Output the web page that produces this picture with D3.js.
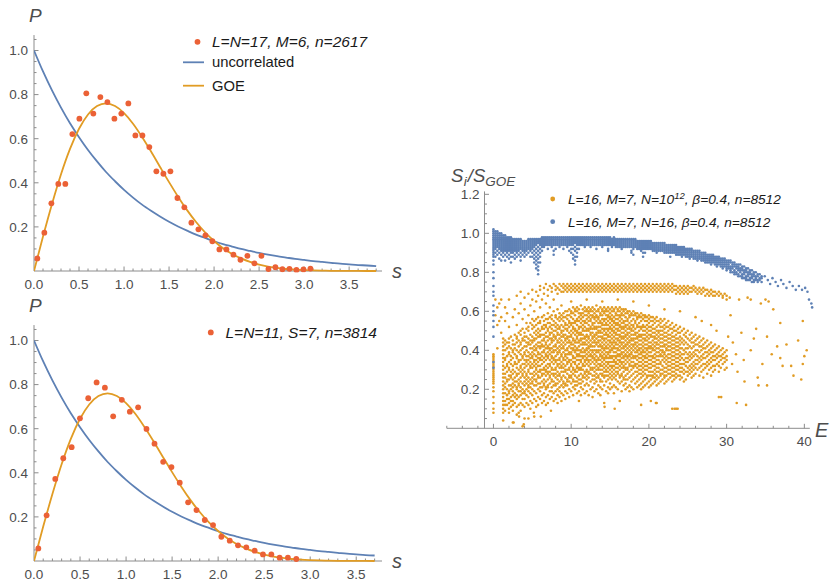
<!DOCTYPE html>
<html><head><meta charset="utf-8">
<script src="https://cdn.jsdelivr.net/npm/d3@7"></script>
<style>
body{margin:0;background:#fff}
svg{display:block}
text{font-family:"Liberation Sans",Arial,Helvetica,sans-serif}
</style>
</head><body>
<svg id="c" width="831" height="583"></svg>
<script>
// ---------- theory curves (left panels) ----------
const sGrid = [0,0.1,0.2,0.3,0.4,0.5,0.6,0.7,0.8,0.9,1.0,1.1,1.2,1.3,1.4,1.5,1.6,1.7,1.8,1.9,2.0,2.1,2.2,2.3,2.4,2.5,2.6,2.7,2.8,2.9,3.0,3.1,3.2,3.3,3.4,3.5,3.6,3.7,3.8];
const pUncorrelated = [1,0.905,0.819,0.741,0.670,0.607,0.549,0.497,0.449,0.407,0.368,0.333,0.301,0.273,0.247,0.223,0.202,0.183,0.165,0.150,0.135,0.122,0.111,0.100,0.091,0.082,0.074,0.067,0.061,0.055,0.050,0.045,0.041,0.037,0.033,0.030,0.027,0.025,0.022];
const pGOE = [0,0.156,0.304,0.439,0.554,0.645,0.710,0.748,0.760,0.748,0.716,0.668,0.608,0.542,0.472,0.403,0.337,0.276,0.222,0.175,0.136,0.103,0.077,0.057,0.041,0.029,0.020,0.014,0.009,0.006,0.004,0.0025,0.0016,0.001,0.0006,0.0003,0.0002,0.0001,0.0001];

// ---------- histogram points ----------
const topS = [0.037,0.115,0.193,0.27,0.348,0.426,0.504,0.581,0.659,0.737,0.815,0.893,0.970,1.048,1.126,1.204,1.281,1.359,1.437,1.515,1.593,1.670,1.748,1.826,1.904,1.981,2.059,2.137,2.215,2.293,2.370,2.448,2.526,2.604,2.681,2.759,2.837,2.915,2.993,3.070];
const topP = [0.057,0.174,0.307,0.395,0.395,0.621,0.691,0.806,0.714,0.789,0.766,0.691,0.714,0.760,0.615,0.615,0.562,0.452,0.441,0.452,0.331,0.289,0.219,0.189,0.162,0.135,0.098,0.098,0.074,0.051,0.069,0.035,0.069,0.009,0.017,0.008,0.010,0.005,0.007,0.011];
const botS = [0.047,0.137,0.231,0.318,0.409,0.499,0.589,0.680,0.770,0.860,0.954,1.041,1.131,1.222,1.309,1.403,1.493,1.583,1.674,1.765,1.855,1.945,2.035,2.126,2.216,2.306,2.397,2.487,2.578,2.668,2.758,2.849];
const botP = [0.057,0.207,0.372,0.466,0.516,0.647,0.738,0.810,0.786,0.656,0.731,0.677,0.697,0.599,0.532,0.450,0.426,0.355,0.266,0.231,0.186,0.163,0.110,0.092,0.071,0.062,0.047,0.030,0.030,0.015,0.015,0.009];

// ---------- right panel: S_i/S_GOE vs E (values in hundredths, grouped by E) ----------
const orangeCols = [
[0,"38 37 36 35 34 33 32 31 30 29 28 27 26 25 24 23 21 19 16 13 10 8"],
[0.25,"66 58"],[0.5,"62 53 41"],[0.75,"55 64"],[1,"57 49 66"],
[1.25,"46 44 42 40 38 36 34 32 30 28 26 24 22 20 18 16 14 12 10 8 4"],
[1.5,"62 55 45 43 40 36 35 31 28 26 23 21 18 14 12 9"],
[1.75,"59 44 41 37 33 32 29 25 24 20 17 15 12"],
[2,"66 52 46 44 42 39 38 34 31 30 27 25 22 19 18 15 13 10 8"],
[2.25,"47 41 37 35 33 29 27 26 22 20 16 14 11"],
[2.5,"57 45 43 40 39 36 32 30 28 25 23 21 19 17 14 12 9 3"],
[2.75,"61 48 43 41 38 34 33 29 26 24 22 18 16 13"],
[3,"68 53 47 46 44 40 37 36 33 31 28 27 24 21 20 17 15 11 7"],
[3.25,"59 49 45 42 39 35 34 30 28 25 23 22 19 16 12 8"],
[3.5,"70 64 50 48 44 43 40 38 35 32 31 29 26 24 21 19 17 13 9"],
[3.75,"56 51 46 45 41 37 36 33 30 28 27 23 20 18 15 12 1"],
[4,"67 61 49 47 45 42 39 38 35 33 31 29 26 24 22 19 18 15 11 5"],
[4.25,"54 51 47 44 42 40 37 35 34 32 28 27 25 23 20 17 13"],
[4.5,"69 58 52 50 46 44 43 39 37 35 33 30 29 26 24 22 21 19 16 12"],
[4.75,"63 54 48 45 43 41 38 36 34 32 31 28 25 23 21 18 14 10"],
[5,"71 66 56 53 51 47 45 44 41 39 37 36 33 31 28 26 24 23 20 17 13"],
[5.25,"60 55 52 49 46 45 42 40 38 35 34 32 29 27 25 22 19 15 6"],
[5.5,"70 65 56 53 50 48 46 43 41 40 37 35 33 31 30 28 25 24 22 18 14 11"],
[5.75,"68 57 54 51 49 47 44 42 39 38 36 34 32 29 27 26 23 20 16 12"],
[6,"73 71 62 55 54 50 48 47 44 42 41 38 36 35 32 30 29 26 23 21 19 15"],
[6.25,"66 57 52 51 48 45 43 42 39 37 35 33 30 28 27 24 21 17 13"],
[6.5,"72 69 58 55 53 51 48 46 45 42 40 39 36 34 31 30 28 25 23 22 18 14"],
[6.75,"74 64 56 53 52 49 47 44 43 41 38 37 35 32 30 29 27 24 21 20 16 12"],
[7,"71 68 59 56 54 51 50 47 45 42 41 39 37 36 33 31 29 28 25 22 21 17 13"],
[7.25,"73 62 57 54 52 49 48 46 43 41 40 38 35 33 32 29 27 26 23 19 15"],
[7.5,"72 70 58 56 53 51 49 46 45 44 41 39 37 36 34 31 30 28 25 24 21 19 16"],
[7.75,"74 66 60 55 53 50 48 47 45 42 40 39 36 35 33 30 28 27 24 22 18 14"],
[8,"73 71 58 57 54 52 50 47 46 43 42 40 37 35 34 31 30 28 26 23 22 19 15"],
[8.25,"72 69 61 56 53 51 49 48 45 44 41 39 38 35 33 32 29 27 25 23 20 17 13"],
[8.5,"74 71 59 57 55 52 51 48 46 44 42 40 39 36 35 33 31 28 27 24 21 19 16"],
[8.75,"73 70 63 58 56 53 50 49 47 45 43 41 38 37 34 32 31 29 26 25 22 18 14"],
[9,"74 72 70 59 57 55 52 50 48 47 44 42 41 39 36 35 33 31 29 27 24 23 21 17"],
[9.25,"73 71 60 57 54 53 51 48 46 45 43 40 38 37 35 32 30 29 26 23 22 19 15"],
[9.5,"74 72 70 60 58 56 53 51 50 47 46 44 41 40 38 36 34 33 30 28 25 24 22 18"],
[9.75,"73 71 61 58 55 54 52 49 47 45 44 42 39 38 35 34 31 30 27 26 24 20 16"],
[10,"74 72 70 65 60 59 57 54 53 50 48 47 44 43 41 39 38 35 33 32 29 27 26 23 19"],
[10.25,"73 71 62 59 56 54 52 51 49 46 45 43 41 40 37 36 34 31 30 28 25 24 21 17"],
[10.5,"74 72 70 61 60 58 55 54 51 50 48 45 44 42 40 39 36 34 33 30 29 27 24 22 20"],
[10.75,"73 71 62 60 56 55 53 50 49 47 46 44 41 40 38 37 35 32 31 29 26 24 22 18"],
[11,"74 72 70 61 59 57 55 52 51 49 48 45 44 42 40 38 37 35 33 31 30 27 25 23 19 14"],
[11.25,"73 71 63 59 58 56 54 52 49 48 46 45 43 40 39 37 35 34 31 30 28 25 23 21 17"],
[11.5,"74 72 70 61 59 57 55 53 51 50 48 46 44 43 41 39 37 36 33 32 30 27 26 24 20"],
[11.75,"73 71 62 60 58 55 54 52 50 47 46 44 43 40 39 37 35 34 32 29 28 26 22 18"],
[12,"74 72 70 66 61 60 58 56 54 51 50 48 47 45 43 41 40 38 36 35 33 30 29 27 25 23 19"],
[12.25,"73 71 62 60 59 57 55 53 51 50 47 46 44 42 41 39 37 35 34 32 29 28 26 22 17"],
[12.5,"74 72 70 61 60 58 56 55 52 51 49 48 45 43 42 40 38 37 35 33 31 30 28 24 20"],
[12.75,"73 71 62 60 58 57 54 53 51 49 47 46 44 42 40 39 37 36 34 31 30 27 25 21 16"],
[13,"74 72 70 61 59 57 56 54 52 51 48 47 45 44 42 40 38 36 35 33 31 29 27 25 23 19"],
[13.25,"73 71 63 60 58 57 55 52 51 49 48 46 44 43 40 39 37 35 34 32 30 28 26 24 20"],
[13.5,"74 72 70 61 60 57 56 54 52 50 49 47 45 44 42 40 39 36 35 33 31 30 27 26 22 18"],
[13.75,"73 71 62 59 58 55 54 52 50 49 47 45 43 42 40 38 37 35 33 32 30 28 25 24 21 17"],
[14,"74 72 70 65 61 60 58 56 54 53 51 49 47 46 44 42 41 39 37 36 34 32 30 28 27 24 20"],
[14.25,"73 71 62 60 59 56 55 53 51 50 48 46 45 43 41 40 38 36 35 33 31 29 27 26 22 13"],
[14.5,"74 72 70 61 60 58 56 54 53 51 49 48 46 44 42 41 39 37 36 34 32 30 29 27 24 19"],
[14.75,"73 71 62 60 58 57 55 53 51 50 48 47 45 43 41 39 38 36 34 33 31 29 27 25 21 18"],
[15,"74 72 70 61 59 57 56 54 52 51 49 47 45 44 42 40 39 37 36 34 32 30 28 26 23 20"],
[15.25,"73 71 62 60 58 56 55 53 51 50 48 46 44 43 41 40 37 36 34 32 31 29 27 25 21"],
[15.5,"74 72 70 61 60 57 55 54 52 50 49 47 45 44 42 41 39 37 35 34 32 30 28 26 22 18"],
[15.75,"73 71 62 59 58 56 54 53 51 49 48 46 44 43 41 39 37 36 34 33 31 29 27 25 21"],
[16,"74 72 70 66 61 60 58 56 54 53 51 50 48 46 45 43 41 40 38 37 35 33 31 29 28 24 20"],
[16.25,"73 71 62 60 58 57 55 53 52 50 48 47 45 44 42 40 38 37 35 34 32 30 27 26 23 14"],
[16.5,"74 72 70 61 59 58 56 54 52 51 49 47 46 44 43 41 39 38 36 34 33 31 28 27 24 19"],
[16.75,"73 71 61 60 58 55 54 52 51 49 47 46 44 42 41 39 37 36 34 32 31 29 26 25 22"],
[17,"74 72 70 61 59 57 55 53 52 50 48 47 45 43 42 40 38 37 35 33 31 30 27 25 23 20"],
[17.25,"73 71 60 59 56 55 53 51 49 48 46 44 43 41 39 37 36 34 31 30 28 25 21"],
[17.5,"74 72 70 60 58 57 54 52 51 49 47 45 44 42 40 38 37 35 33 32 29 26 22 19"],
[17.75,"73 71 59 58 55 53 51 50 48 46 45 43 41 39 38 36 34 32 30 27 24 21"],
[18,"74 72 70 65 60 58 56 53 52 50 48 46 45 43 42 40 37 36 34 32 31 28 25 20"],
[18.25,"73 71 59 58 55 54 51 49 48 46 44 43 41 39 37 36 33 32 29 26 23"],
[18.5,"74 72 70 59 57 56 53 52 49 47 46 44 42 40 39 37 35 33 31 29 27 24 21"],
[18.75,"73 71 58 57 54 52 50 48 47 45 43 41 40 38 36 34 32 30 28 25 22"],
[19,"74 72 70 59 57 55 52 51 48 47 45 43 41 39 38 36 34 32 30 28 26 23 20 12"],
[19.25,"73 71 58 56 53 52 50 48 46 44 42 40 39 37 35 33 31 29 27 24 21"],
[19.5,"74 72 70 58 57 55 52 50 48 46 45 43 41 39 37 36 34 32 30 28 25 22"],
[19.75,"73 71 57 55 53 51 49 47 45 43 41 40 38 36 34 32 30 27 26 23"],
[20,"74 72 70 63 58 56 54 52 50 48 46 44 42 41 39 37 35 33 31 29 27 24 21"],
[20.25,"73 71 57 55 52 50 48 47 44 42 41 39 37 35 33 31 29 27 25 22 14"],
[20.5,"74 72 70 57 55 53 51 49 47 45 43 41 40 37 36 34 32 29 27 26 23"],
[20.75,"73 71 56 54 51 49 47 46 44 42 40 38 36 34 32 30 28 26 24"],
[21,"74 72 70 57 55 52 50 48 46 44 43 41 39 37 35 33 31 29 27 25 22 13"],
[21.25,"73 71 55 53 50 49 47 45 43 41 39 37 35 33 31 29 26 23"],
[21.5,"74 72 70 56 54 52 50 48 46 44 42 40 38 37 34 33 30 28 27 24"],
[21.75,"73 71 55 52 50 48 46 44 42 40 39 37 35 32 30 28 25"],
[22,"74 72 70 61 56 53 51 49 47 45 43 42 39 38 36 34 31 29 27 26 23"],
[22.25,"73 71 54 52 49 47 45 43 41 40 37 35 33 31 29 27 24"],
[22.5,"74 72 70 55 52 50 48 46 44 42 40 38 36 34 32 30 28 25"],
[22.75,"73 71 53 51 48 46 44 42 40 38 36 34 32 30 28 26"],
[23,"74 72 70 54 51 49 47 45 43 41 39 37 35 33 31 29 27 24 10"],
[23.25,"73 71 52 50 47 45 43 41 39 37 35 33 31 29 27 25"],
[23.5,"73 71 69 53 50 48 46 44 42 40 38 36 34 32 30 28 26 10"],
[23.75,"72 70 51 49 46 44 42 40 38 36 34 32 30 27"],
[24,"73 71 69 60 52 49 47 45 43 41 39 37 35 33 31 29 27 25"],
[24.25,"72 70 50 46 44 41 38 36 33 31 29 26"],
[24.5,"73 71 69 51 48 45 43 40 38 35 33 30 28 24"],
[24.75,"72 70 49 47 44 41 39 36 34 32 29 25"],
[25,"73 71 69 50 46 43 41 38 36 34 31 29 27"],
[25.25,"72 70 48 45 42 39 37 35 32 30 28"],
[25.5,"72 70 49 46 44 41 38 36 33 31 29 26"],
[25.75,"73 71 47 44 42 39 37 34 32 30 27"],
[26,"72 70 57 48 45 43 40 38 35 33 31 28"],
[26.25,"71 69 46 43 40 37 35 33 30"],
[26.5,"72 70 47 44 42 39 36 34 31 27"],
[26.75,"71 69 45 42 40 37 35 32 29"],
[27,"72 70 46 43 41 38 36 33 30 26"],
[27.25,"71 68 44 41 39 36 33 31"],
[27.5,"71 69 45 42 39 37 34 32 28"],
[27.75,"70 68 43 40 38 35 33 30"],
[28,"71 69 53 44 41 39 36 34 31 27"],
[28.25,"70 68 42 39 37 35 32 29"],
[28.5,"70 68 43 40 37 35 32 30"],
[28.75,"69 41 38 36 33"],
[29,"70 68 42 39 37 34 32 29 16"],
[29.25,"69 40 37 35 31"],
[29.5,"68 67 41 38 36 33"],
[29.75,"69 39 36 34 30"],
[30,"68 66 40 37 35 31"]
];
const orangeSparse = [[30.4,.67],[30.8,.44],[31.2,.38],[31.3,.13],[31.6,.66],[31.9,.49],[32.2,.35],[32.3,.24],[32.5,.12],[32.7,.67],[33.1,.66],[33.1,.40],[33.5,.46],[33.8,.51],[34.0,.26],[34.1,.22],[34.4,.64],[34.6,.33],[35.0,.66],[35.2,.47],[35.2,.22],[35.4,.65],[35.8,.38],[36.0,.61],[36.5,.42],[36.9,.54],[36.9,.36],[37.2,.32],[37.7,.43],[38.3,.32],[38.6,.27],[39.2,.45],[39.6,.25],[39.8,.55],[39.8,.33],[40.0,.37],[40.3,.40],[23.3,.10],[23.7,.10],[20.9,.13],[29.3,.16],[2.6,.03],[3.3,.06],[3.9,.02],[4.5,.05],[5.2,.08],[6.1,.06],[7.4,.09],[14.3,.11],[15.6,.10],[26.8,.55],[28.7,.50],[30.5,.58],[30.7,.33],[31.4,.29],[30.2,.47]];

const blueCols = [
[0,"102 101 100 99 98 97 96 95 94 93 92 91 90 89 88 86 84 80 77 73 70 68 63 60 58 55 52 47 34 31"],
[0.25,"101 100 99 98 97 96 95 94 93 92 90 88"],
[0.5,"101 100 99 98 97 96 95 94 93 91 89"],
[0.75,"100 99 98 97 96 95 94 93 92 90 87"],
[1,"100 99 98 97 96 95 94 93 92 91 89 86"],
[1.25,"99 98 97 96 95 94 93 92 91 90 88"],
[1.5,"99 98 97 96 95 94 93 92 91 89 86"],
[1.75,"98 97 96 95 94 93 92 91 90 88"],
[2,"98 97 96 95 94 93 92 91 89 87"],
[2.25,"98 97 96 95 94 93 92 91 90 88 85"],
[2.5,"97 96 95 94 93 92 91 90 88"],
[2.75,"97 96 95 94 93 92 91 89 87"],
[3,"97 96 95 94 93 92 91 90 88"],
[3.25,"97 96 95 94 93 92 91 89"],
[3.5,"97 96 95 94 93 92 90 88 86"],
[3.75,"96 95 94 93 92 91 89"],
[4,"96 95 94 93 92 91 90 88"],
[4.25,"96 95 94 93 92 91 89"],
[4.5,"97 96 95 94 93 92 90"],
[4.75,"97 96 95 94 93 92 91 88"],
[5,"97 96 95 94 93 92 90 88"],
[5.25,"97 96 95 94 93 91 89 87 85"],
[5.5,"97 96 95 94 92 90 88 86 84 82"],
[5.75,"97 96 95 93 91 89 87 85 83 81 79"],
[6,"97 96 95 94 92 90 88 85"],
[6.25,"98 97 96 95 94 93 91"],
[6.5,"98 97 96 95 94 93"],
[6.75,"98 97 96 95 94"],
[7,"98 97 96 95 94 92"],
[7.25,"98 97 96 95 94"],
[7.5,"98 97 96 95 94 93"],
[7.75,"98 97 96 95 94 91 89"],
[8,"98 97 96 95 94 92"],
[8.25,"98 97 96 95 94"],
[8.5,"98 97 96 95 94 93"],
[8.75,"98 97 96 95 94"],
[9,"98 97 96 95 94 92"],
[9.25,"98 97 96 95 94"],
[9.5,"98 97 96 95 94 93"],
[9.75,"98 97 96 95 94 91"],
[10,"98 97 96 95 94 92 90"],
[10.25,"98 97 96 95 94 92 89 87"],
[10.5,"98 97 96 95 93 91 88 86 84"],
[10.75,"98 97 96 95 94 92 90 88"],
[11,"98 97 96 95 94 92"],
[11.25,"98 97 96 95 94"],
[11.5,"98 97 96 95 94"],
[11.75,"98 97 96 95 94 93"],
[12,"98 97 96 95 94"],
[12.25,"98 97 96 95 94"],
[12.5,"98 97 96 95 94 93"],
[12.75,"98 97 96 95 94"],
[13,"98 97 96 95 94"],
[13.25,"98 97 96 95 94 92"],
[13.5,"98 97 96 95 94"],
[13.75,"98 97 96 95 94"],
[14,"98 97 96 95 94 93"],
[14.25,"98 97 96 95 94"],
[14.5,"98 97 96 95 94"],
[14.75,"98 97 96 95 94 92 91"],
[15,"98 97 96 95 94"],
[15.25,"97 96 95 94 93"],
[15.5,"98 97 96 95 94"],
[15.75,"97 96 95 94 93"],
[16,"97 96 95 94 93"],
[16.25,"97 96 95 94 93"],
[16.5,"97 96 95 94 93 92"],
[16.75,"97 96 95 94 93"],
[17,"97 96 95 94 93"],
[17.25,"97 96 95 94 93"],
[17.5,"97 96 95 94 93"],
[17.75,"97 96 95 94 93 91 90"],
[18,"97 96 95 94 93 92 89"],
[18.25,"97 96 95 94 93"],
[18.5,"96 95 94 93 92"],
[18.75,"96 95 94 93 92"],
[19,"96 95 94 93 92 91"],
[19.25,"96 95 94 93 92 90 88"],
[19.5,"96 95 94 93 92 90"],
[19.75,"96 95 94 93 92"],
[20,"96 95 94 93 92"],
[20.25,"96 95 94 93 92"],
[20.5,"95 94 93 92 91"],
[20.75,"95 94 93 92 91"],
[21,"95 94 93 92 91 90"],
[21.25,"95 94 93 92 91"],
[21.5,"95 94 93 92 91"],
[21.75,"95 94 93 92 91"],
[22,"95 94 93 92 91 90"],
[22.25,"94 93 92 91 90"],
[22.5,"94 93 92 91 90"],
[22.75,"94 93 92 91 90 88"],
[23,"94 93 92 91 90"],
[23.25,"94 93 92 91 90"],
[23.5,"94 93 92 91 90 89"],
[23.75,"93 92 91 90 89"],
[24,"93 92 91 90 89"],
[24.25,"93 92 91 90 89 88"],
[24.5,"93 92 91 90 89"],
[24.75,"92 91 90 89 88"],
[25,"92 91 90 89 88"],
[25.25,"92 91 90 89 88 87"],
[25.5,"92 91 90 89 88"],
[25.75,"91 90 89 88 87"],
[26,"91 90 89 88 87"],
[26.25,"91 90 89 88 87 86"],
[26.5,"91 90 89 88 87"],
[26.75,"90 89 88 87 86"],
[27,"90 89 88 87 86"],
[27.25,"90 89 88 87 86 85"],
[27.5,"89 88 87 86 85"],
[27.75,"89 88 87 86 85"],
[28,"89 88 87 86 85 84"],
[28.25,"89 88 87 86 85"],
[28.5,"88 87 86 85 84"],
[28.75,"88 87 86 85 84 83"],
[29,"88 87 86 85 84"],
[29.25,"87 86 85 84 83"],
[29.5,"87 86 85 84 83 82"],
[29.75,"87 86 85 84 83"],
[30,"86 85 84 83 82 81"],
[30.25,"86 85 84 83 82"],
[30.5,"86 85 83 82 81 80"],
[30.75,"85 84 83 82 80"],
[31,"85 84 83 81 80 79"],
[31.25,"84 83 82 80 79"],
[31.5,"84 83 82 81 79 78"],
[31.75,"84 82 81 80 78"],
[32,"83 82 81 79 78 77"],
[32.25,"83 81 80 79 77"],
[32.5,"82 81 80 78 77 76"],
[32.75,"82 80 79 78 76"],
[33,"81 80 79 77 76"],
[33.25,"81 79 78 77 75"],
[33.5,"80 79 78 76 75"],
[33.75,"80 78 77 76"],
[34,"79 78 76 75"],
[34.25,"79 77 76"],
[34.5,"78 77 75"]
];
const blueSparse = [[34.9,.78],[35.3,.76],[35.6,.74],[35.9,.77],[36.3,.75],[36.6,.73],[37,.76],[37.3,.74],[37.7,.72],[38.1,.75],[38.5,.73],[38.9,.71],[39.3,.73],[39.7,.71],[40.1,.72],[40.4,.70],[40.6,.66],[40.9,.64],[41,.62]];

// ---------- tick labels ----------
const sTickLabels = ["0.0","0.5","1.0","1.5","2.0","2.5","3.0","3.5"];
const pTickLabels = ["0.2","0.4","0.6","0.8","1.0"];
const eTickLabels = ["0","10","20","30","40"];
const rTickLabels = ["0.2","0.4","0.6","0.8","1.0","1.2"];

// ---------- styles ----------
const BLUE = "#5E81B5", ORANGE = "#E19C24", RED = "#EB6136";
const AXC = "#8c8c8c", LBL = "#4d4d4d", LEG = "#1a1a1a";

const svg = d3.select("#c");
const defs = svg.append("defs");

function leftPanel(o) {
  const x = o.x, y = o.y;
  const g = svg.append("g");
  const [x0, x1] = x.range();
  const y0 = y(0), yT = y(1.07);
  defs.append("clipPath").attr("id", o.id).append("rect")
    .attr("x", x0).attr("y", yT).attr("width", x1 - x0).attr("height", y0 - yT + 1.5);
  g.append("line").attr("x1", x0).attr("x2", x1).attr("y1", y0).attr("y2", y0).attr("stroke", AXC);
  g.append("line").attr("x1", x0).attr("x2", x0).attr("y1", y0).attr("y2", yT).attr("stroke", AXC);
  const nx = Math.floor(x.domain()[1] * 10 + 1e-6);
  for (let i = 1; i <= nx; i++) {
    const xx = x(i / 10), maj = i % 5 === 0;
    g.append("line").attr("x1", xx).attr("x2", xx).attr("y1", y0).attr("y2", y0 - (maj ? 4.5 : 2.5)).attr("stroke", AXC);
  }
  sTickLabels.forEach(t => {
    g.append("text").attr("x", x(+t)).attr("y", y0 + 18).attr("text-anchor", "middle")
      .attr("font-size", 13.5).attr("fill", LBL).text(t);
  });
  for (let i = 1; i <= 21; i++) {
    const yy = y(i * 0.05), maj = i % 4 === 0;
    g.append("line").attr("x1", x0).attr("x2", x0 + (maj ? 4.5 : 2.5)).attr("y1", yy).attr("y2", yy).attr("stroke", AXC);
  }
  pTickLabels.forEach(t => {
    g.append("text").attr("x", x0 - 6).attr("y", y(+t) + 4.8).attr("text-anchor", "end")
      .attr("font-size", 13.5).attr("fill", LBL).text(t);
  });
  g.append("text").attr("x", x0 - 5).attr("y", yT - 13).attr("font-size", 19).attr("font-style", "italic").attr("fill", LBL).text("P");
  g.append("text").attr("x", x1 + 10).attr("y", y0 + 7).attr("font-size", 20).attr("font-style", "italic").attr("fill", LBL).text("s");
  const pl = g.append("g").attr("clip-path", `url(#${o.id})`);
  const idx = sGrid.map((s, i) => i).filter(i => sGrid[i] <= o.sEnd + 1e-9);
  const line = d3.line().x(i => x(sGrid[i])).curve(d3.curveMonotoneX);
  pl.append("path").attr("d", line.y(i => y(pUncorrelated[i]))(idx)).attr("fill", "none").attr("stroke", BLUE).attr("stroke-width", 1.8);
  pl.append("path").attr("d", line.y(i => y(pGOE[i]))(idx)).attr("fill", "none").attr("stroke", ORANGE).attr("stroke-width", 1.8);
  pl.selectAll("circle.d").data(o.s).join("circle")
    .attr("cx", d => x(d)).attr("cy", (d, i) => y(o.p[i])).attr("r", 2.9).attr("fill", RED);
  return g;
}

// top-left
const xTop = d3.scaleLinear().domain([0, 3.865]).range([34, 382]);
const yTop = d3.scaleLinear().domain([0, 1]).range([271, 50.5]);
const gT = leftPanel({id: "cT", x: xTop, y: yTop, sEnd: 3.8, s: topS, p: topP});
gT.append("circle").attr("cx", 197.5).attr("cy", 41.8).attr("r", 2.9).attr("fill", RED);
gT.append("text").attr("x", 212).attr("y", 47).attr("font-size", 15.5).attr("font-style", "italic").attr("fill", LEG).text("L=N=17, M=6, n=2617");
gT.append("line").attr("x1", 183).attr("x2", 204).attr("y1", 62.3).attr("y2", 62.3).attr("stroke", BLUE).attr("stroke-width", 1.8);
gT.append("text").attr("x", 212).attr("y", 67.3).attr("font-size", 14.8).attr("fill", LEG).text("uncorrelated");
gT.append("line").attr("x1", 183).attr("x2", 204).attr("y1", 85.7).attr("y2", 85.7).attr("stroke", ORANGE).attr("stroke-width", 1.8);
gT.append("text").attr("x", 212).attr("y", 90.8).attr("font-size", 14.8).attr("fill", LEG).text("GOE");

// bottom-left
const xBot = d3.scaleLinear().domain([0, 3.78]).range([34, 382]);
const yBot = d3.scaleLinear().domain([0, 1]).range([561, 340.5]);
const gB = leftPanel({id: "cB", x: xBot, y: yBot, sEnd: 3.7, s: botS, p: botP});
gB.append("circle").attr("cx", 210.8).attr("cy", 332.4).attr("r", 2.9).attr("fill", RED);
gB.append("text").attr("x", 225.5).attr("y", 337.7).attr("font-size", 15.5).attr("font-style", "italic").attr("fill", LEG).text("L=N=11, S=7, n=3814");

// ---------- right panel ----------
const xR = d3.scaleLinear().domain([-6, 40.7]).range([446.8, 809.8]);
const yR = d3.scaleLinear().domain([0, 1.215]).range([428.3, 191.4]);
const yAxisE = -1.15;
const gR = svg.append("g");
const rx0 = xR(yAxisE), ry0 = yR(0);
gR.append("line").attr("x1", xR(-6)).attr("x2", xR(40.7)).attr("y1", ry0).attr("y2", ry0).attr("stroke", AXC);
gR.append("line").attr("x1", rx0).attr("x2", rx0).attr("y1", ry0).attr("y2", yR(1.215)).attr("stroke", AXC);
for (let e = -6; e <= 40; e += 2) {
  const maj = e % 10 === 0;
  gR.append("line").attr("x1", xR(e)).attr("x2", xR(e)).attr("y1", ry0).attr("y2", ry0 - (maj ? 4.5 : 2.5)).attr("stroke", AXC);
}
eTickLabels.forEach(t => gR.append("text").attr("x", xR(+t)).attr("y", ry0 + 18).attr("text-anchor", "middle").attr("font-size", 13.5).attr("fill", LBL).text(t));
for (let i = 1; i <= 24; i++) {
  const maj = i % 4 === 0;
  gR.append("line").attr("x1", rx0).attr("x2", rx0 + (maj ? 4.5 : 2.5)).attr("y1", yR(i * 0.05)).attr("y2", yR(i * 0.05)).attr("stroke", AXC);
}
rTickLabels.forEach(t => gR.append("text").attr("x", rx0 - 5).attr("y", yR(+t) + 4.8).attr("text-anchor", "end").attr("font-size", 13.5).attr("fill", LBL).text(t));
const yl = gR.append("text").attr("x", 451).attr("y", 181.5).attr("font-size", 18.5).attr("font-style", "italic").attr("fill", LBL);
yl.append("tspan").text("S");
yl.append("tspan").attr("font-size", 13.5).attr("dy", 4).attr("dx", 0.5).text("i");
yl.append("tspan").attr("dy", -4).attr("dx", 1).text("/S");
yl.append("tspan").attr("font-size", 13.5).attr("dy", 4).text("GOE");
gR.append("text").attr("x", 815).attr("y", 437).attr("font-size", 20).attr("font-style", "italic").attr("fill", LBL).text("E");

function expand(cols) {
  const out = [];
  cols.forEach(([E, str]) => str.trim().split(/\s+/).forEach(v => out.push([E, +v / 100])));
  return out;
}
const orangePts = expand(orangeCols).concat(orangeSparse);
const bluePts = expand(blueCols).concat(blueSparse);
const pr = 1.3;
gR.append("g").selectAll("circle").data(orangePts).join("circle")
  .attr("cx", d => xR(d[0])).attr("cy", d => yR(d[1])).attr("r", pr).attr("fill", ORANGE);
gR.append("g").selectAll("circle").data(bluePts).join("circle")
  .attr("cx", d => xR(d[0])).attr("cy", d => yR(d[1])).attr("r", pr).attr("fill", BLUE);

gR.append("circle").attr("cx", 552.7).attr("cy", 199).attr("r", 2.4).attr("fill", ORANGE);
const l1 = gR.append("text").attr("x", 568).attr("y", 204).attr("font-size", 13.7).attr("font-style", "italic").attr("fill", LEG);
l1.append("tspan").text("L=16, M=7, N=10");
l1.append("tspan").attr("font-size", 9.5).attr("dy", -5.5).text("12");
l1.append("tspan").attr("dy", 5.5).text(", β=0.4, n=8512");
gR.append("circle").attr("cx", 552.7).attr("cy", 221.7).attr("r", 2.4).attr("fill", BLUE);
gR.append("text").attr("x", 568).attr("y", 226.8).attr("font-size", 13.7).attr("font-style", "italic").attr("fill", LEG).text("L=16, M=7, N=16, β=0.4, n=8512");
</script>
</body></html>
